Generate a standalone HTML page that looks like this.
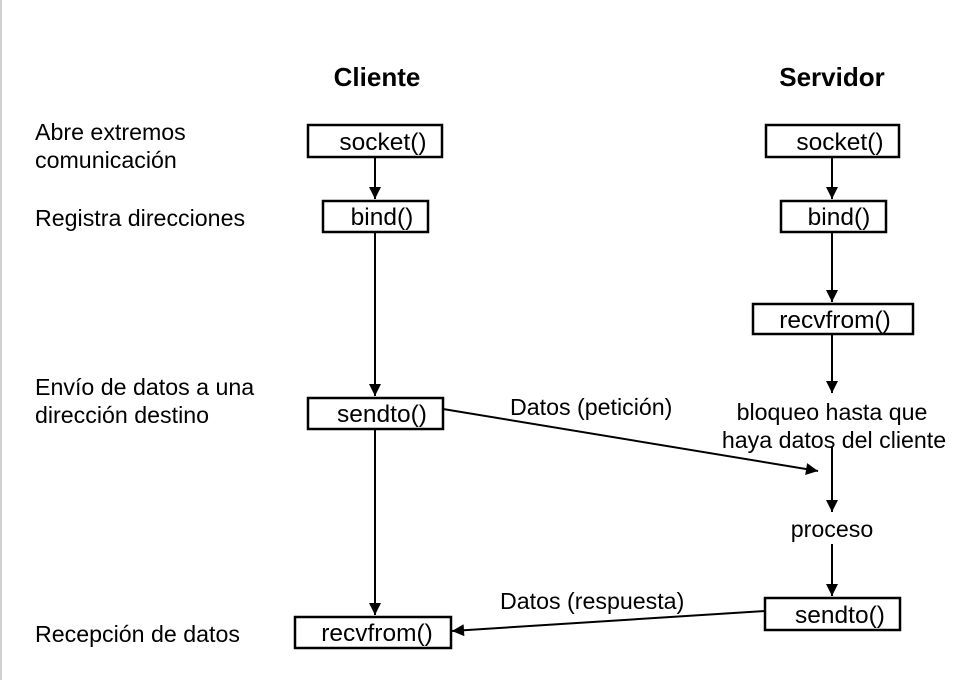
<!DOCTYPE html>
<html><head><style>
html,body{margin:0;padding:0;background:#fff;}
svg{display:block;}
text{font-family:"Liberation Sans",Arial,sans-serif;fill:#000;}
</style></head><body>
<svg width="976" height="680" viewBox="0 0 976 680" xmlns="http://www.w3.org/2000/svg">
<defs>
<marker id="a" viewBox="0 0 10 10" refX="10" refY="5" markerWidth="13" markerHeight="12" markerUnits="userSpaceOnUse" orient="auto">
<path d="M0,0 L10,5 L0,10 z" fill="#000"/></marker>
</defs>
<rect x="0" y="0" width="2" height="680" fill="#d0d0d0"/>
<g font-size="26" font-weight="bold" text-anchor="middle">
<text x="377" y="86">Cliente</text>
<text x="832" y="86">Servidor</text>
</g>
<g font-size="23.2">
<text x="35" y="140">Abre extremos</text>
<text x="35" y="168">comunicación</text>
<text x="35" y="226">Registra direcciones</text>
<text x="35" y="395">Envío de datos a una</text>
<text x="35" y="423">dirección destino</text>
<text x="35" y="642">Recepción de datos</text>
<text x="510" y="415">Datos (petición)</text>
<text x="500" y="609">Datos (respuesta)</text>
<text x="832" y="420" text-anchor="middle">bloqueo hasta que</text>
<text x="834" y="448" text-anchor="middle">haya datos del cliente</text>
<text x="832" y="537" text-anchor="middle">proceso</text>
</g>
<g fill="none" stroke="#000" stroke-width="2.5">
<rect x="308" y="125" width="134" height="32"/>
<rect x="323" y="201" width="105" height="31"/>
<rect x="308" y="398" width="135" height="31"/>
<rect x="295" y="617" width="156" height="31"/>
<rect x="766" y="125" width="133" height="32"/>
<rect x="781" y="201" width="105" height="31"/>
<rect x="753" y="304" width="160" height="30"/>
<rect x="765" y="598" width="135" height="32"/>
</g>
<g font-size="24.5" text-anchor="middle">
<text x="383" y="150">socket()</text>
<text x="382" y="225">bind()</text>
<text x="382" y="422">sendto()</text>
<text x="377" y="641">recvfrom()</text>
<text x="840" y="150">socket()</text>
<text x="839" y="225">bind()</text>
<text x="835" y="328">recvfrom()</text>
<text x="840" y="623">sendto()</text>
</g>
<g stroke="#000" stroke-width="2" fill="none" marker-end="url(#a)">
<line x1="375" y1="157" x2="375" y2="199"/>
<line x1="375" y1="232" x2="375" y2="396"/>
<line x1="375" y1="429" x2="375" y2="615"/>
<line x1="832" y1="157" x2="832" y2="199"/>
<line x1="832" y1="232" x2="832" y2="302"/>
<line x1="832" y1="334" x2="832" y2="393"/>
<line x1="832" y1="447" x2="832" y2="512"/>
<line x1="832" y1="544" x2="832" y2="596"/>
<line x1="443" y1="409" x2="818" y2="471"/>
<line x1="765" y1="611" x2="452" y2="631"/>
</g>
</svg>
</body></html>
